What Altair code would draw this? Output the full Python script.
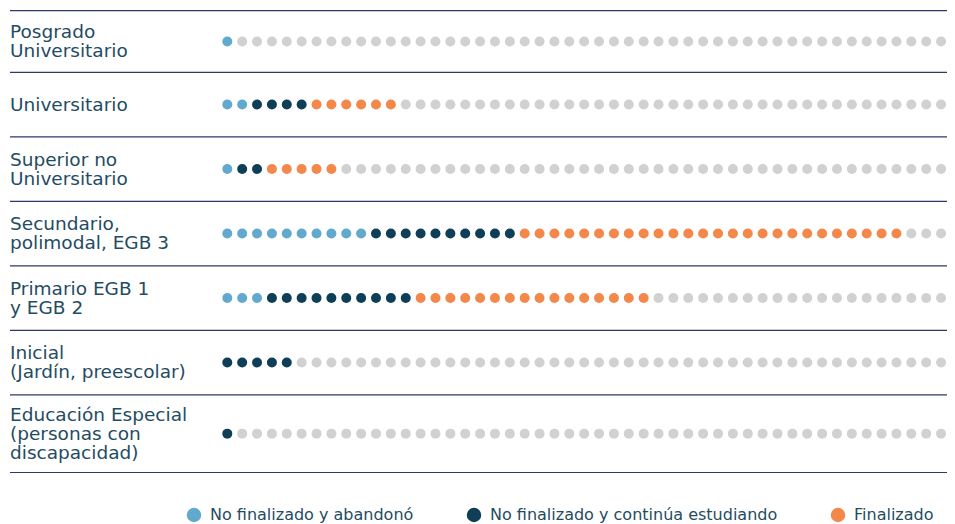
import altair as alt
import pandas as pd

# ---- data ----
niveles = [
    "Posgrado\nUniversitario",
    "Universitario",
    "Superior no\nUniversitario",
    "Secundario,\npolimodal, EGB 3",
    "Primario EGB 1\ny EGB 2",
    "Inicial\n(Jardín, preescolar)",
    "Educación Especial\n(personas con\ndiscapacidad)",
]
abandono = [1, 2, 1, 10, 3, 0, 0]
continua = [0, 4, 2, 10, 10, 5, 1]
finalizado = [0, 6, 5, 26, 16, 0, 0]
total_puntos = 50

categorias = ["No finalizado y abandonó", "No finalizado y continúa estudiando", "Finalizado", "Resto"]
colores = ["#62aacd", "#0e3f56", "#f4884a", "#d1d1d1"]

# ---- layout (computed) ----
W, H = 939, 516
LH = 19
top = 2.7
row_centers, label_y, bounds = [], [], [top]
y = top
for r, lab in enumerate(niveles):
    n = lab.count("\n") + 1
    h = (61.6 if r == 0 else 64.5) + max(0, n - 2) * 13.2
    c = y + h / 2
    row_centers.append(c)
    label_y.append(c - (n - 1) * LH / 2)
    y += h
    bounds.append(y)

spacing = 14.87
x0 = 219.3
x_lo = -x0 / spacing
x_hi = x_lo + W / spacing

rows = []
for r, lab in enumerate(niveles):
    a, c, f = abandono[r], continua[r], finalizado[r]
    for i in range(total_puntos):
        if i < a:
            cat = categorias[0]
        elif i < a + c:
            cat = categorias[1]
        elif i < a + c + f:
            cat = categorias[2]
        else:
            cat = categorias[3]
        rows.append({"nivel": lab, "idx": i, "cat": cat, "yc": row_centers[r]})
dots = pd.DataFrame(rows)
labels = pd.DataFrame({"nivel": niveles, "yl": label_y})
lines = pd.DataFrame({"yb": bounds})

yscale = alt.Scale(domain=[0, H], reverse=True)

rules = alt.Chart(lines).mark_rule(color="#2b3a67", strokeWidth=1.2).encode(
    x=alt.value(2), x2=alt.value(W), y=alt.Y("yb:Q", scale=yscale, axis=None)
)

points = alt.Chart(dots).mark_circle(size=100, opacity=1).encode(
    x=alt.X("idx:Q", scale=alt.Scale(domain=[x_lo, x_hi], nice=False, zero=False), axis=None),
    y=alt.Y("yc:Q", scale=yscale, axis=None),
    color=alt.Color(
        "cat:N",
        scale=alt.Scale(domain=categorias, range=colores),
        legend=alt.Legend(
            title=None,
            values=categorias[:3],
            orient="none",
            legendX=178,
            legendY=499,
            direction="horizontal",
            symbolType="circle",
            symbolSize=210,
            symbolStrokeWidth=0,
            labelFont="DejaVu Sans",
            labelFontSize=16,
            labelColor="#1f4c62",
            labelLimit=400,
            columnPadding=52,
            symbolOffset=0,
            labelOffset=8,
        ),
    ),
)

texts = alt.Chart(labels).mark_text(
    align="left", baseline="middle", lineBreak="\n", lineHeight=LH,
    font="DejaVu Sans", fontSize=18.5, color="#1f4c62"
).encode(
    x=alt.value(2),
    y=alt.Y("yl:Q", scale=yscale, axis=None),
    text="nivel:N",
)

chart = alt.layer(rules, points, texts).properties(
    width=W, height=H, padding=0, autosize=alt.AutoSizeParams(type="none")
).configure_view(stroke=None)

chart.save("out.html", embed_options={"renderer": "svg", "actions": False})
